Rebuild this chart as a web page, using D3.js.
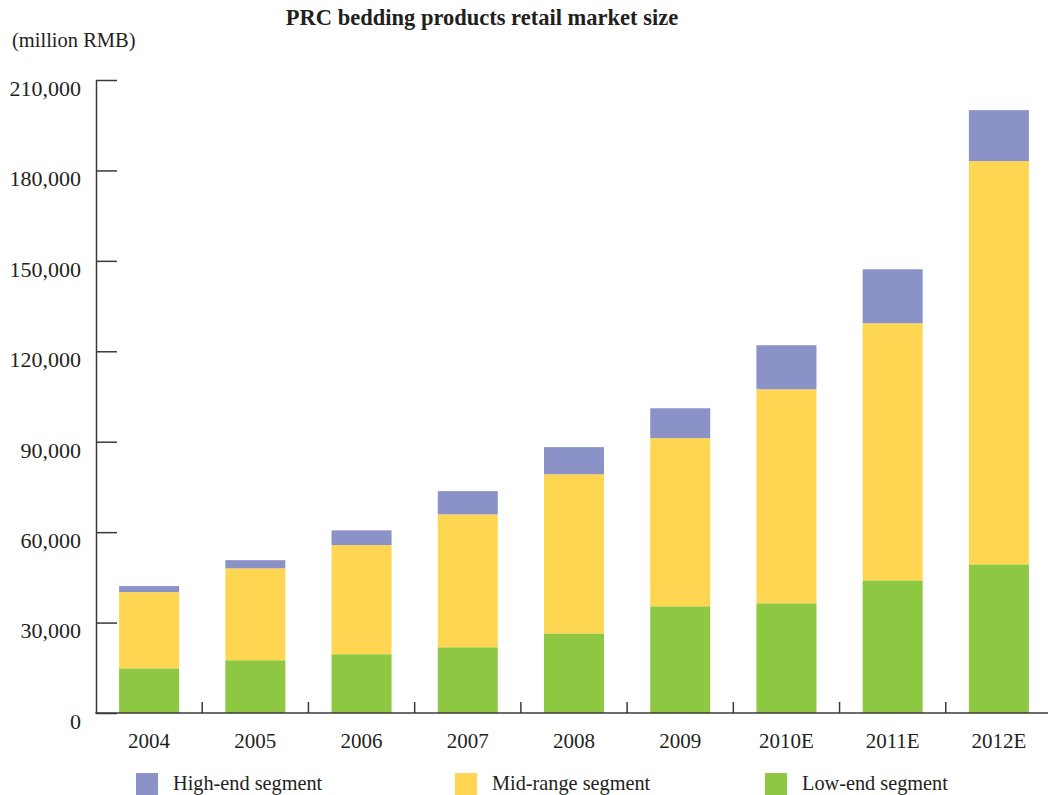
<!DOCTYPE html>
<html>
<head>
<meta charset="utf-8">
<script src="https://cdn.jsdelivr.net/npm/d3@7"></script>
<style>
  html, body { margin: 0; padding: 0; background: #fff; }
  svg { display: block; }
  text { font-family: "Liberation Serif", "Times New Roman", serif; fill: #231f20; }
</style>
</head>
<body>
<svg id="chart" width="1048" height="795"></svg>
<script>
// Retail market size by segment, million RMB
const years = ["2004", "2005", "2006", "2007", "2008", "2009", "2010E", "2011E", "2012E"];
const lowEnd  = [14800, 17500, 19500, 21800, 26400, 35400, 36400, 44000, 49300];
const midRange = [25300, 30500, 36200, 44100, 52800, 55800, 71000, 85300, 133800];
const highEnd = [2000, 2700, 4900, 7700, 9000, 9900, 14600, 17900, 16900];
const yTicks = [0, 30000, 60000, 90000, 120000, 150000, 180000, 210000];

const segments = [
  { key: "low",  label: "Low-end segment",   color: "#8ec742" },
  { key: "mid",  label: "Mid-range segment", color: "#fed651" },
  { key: "high", label: "High-end segment",  color: "#8a92c8" }
];
const legendOrder = ["high", "mid", "low"];

const rows = years.map((y, i) => ({ year: y, low: lowEnd[i], mid: midRange[i], high: highEnd[i] }));

const svg = d3.select("#chart");
const axisColor = "#3a3a3a";

const x = d3.scaleBand()
  .domain(years)
  .range([96, 1052])
  .paddingInner(0.435)
  .paddingOuter(0.2175);

const y = d3.scaleLinear()
  .domain([0, 210000])
  .range([713, 80]);

const stack = d3.stack().keys(segments.map(s => s.key));
const series = stack(rows);
const colorOf = Object.fromEntries(segments.map(s => [s.key, s.color]));

// stacked bars
svg.append("g")
  .selectAll("g")
  .data(series)
  .join("g")
  .attr("fill", d => colorOf[d.key])
  .selectAll("rect")
  .data(d => d)
  .join("rect")
  .attr("x", d => x(d.data.year))
  .attr("width", x.bandwidth())
  .attr("y", d => y(d[1]))
  .attr("height", d => y(d[0]) - y(d[1]));

// y axis: ticks pointing into the plot, labels on the left
const yAxis = d3.axisLeft(y)
  .tickValues(yTicks)
  .tickFormat(d3.format(","))
  .tickSizeInner(-21)
  .tickSizeOuter(0)
  .tickPadding(15);

const gy = svg.append("g")
  .attr("transform", "translate(96,0)")
  .call(yAxis);
gy.select(".domain").attr("stroke", axisColor).attr("stroke-width", 1.5);
gy.selectAll(".tick line").attr("stroke", axisColor).attr("stroke-width", 1.5);
gy.selectAll(".tick text")
  .attr("font-family", "Liberation Serif, Times New Roman, serif")
  .attr("font-size", 22)
  .attr("fill", "#231f20")
  .attr("dy", "0.7em");

// x axis: category labels under each bar
const xAxis = d3.axisBottom(x).tickSize(0).tickPadding(0);
const gx = svg.append("g")
  .attr("transform", "translate(0,713)")
  .call(xAxis);
gx.select(".domain").remove();
gx.selectAll(".tick text")
  .attr("font-family", "Liberation Serif, Times New Roman, serif")
  .attr("font-size", 21)
  .attr("fill", "#231f20")
  .attr("dy", null)
  .attr("y", 35);

// baseline running across the plot
svg.append("line")
  .attr("x1", 95.25).attr("x2", 1048)
  .attr("y1", y(0)).attr("y2", y(0))
  .attr("stroke", axisColor)
  .attr("stroke-width", 1.5);

// separators between categories
const half = x.step() * x.paddingInner() / 2;
svg.append("g")
  .selectAll("line")
  .data(years.slice(1))
  .join("line")
  .attr("x1", d => x(d) - half)
  .attr("x2", d => x(d) - half)
  .attr("y1", y(0))
  .attr("y2", y(0) - 11)
  .attr("stroke", axisColor)
  .attr("stroke-width", 1.5);

// title and unit
svg.append("text")
  .attr("x", 482)
  .attr("y", 25)
  .attr("text-anchor", "middle")
  .attr("font-size", 22.5)
  .attr("font-weight", "bold")
  .text("PRC bedding products retail market size");

svg.append("text")
  .attr("x", 12)
  .attr("y", 47)
  .attr("font-size", 20.5)
  .text("(million RMB)");

// legend
const legendX = [136, 455, 765];
const legend = svg.append("g")
  .selectAll("g")
  .data(legendOrder.map(k => segments.find(s => s.key === k)))
  .join("g")
  .attr("transform", (d, i) => `translate(${legendX[i]},773)`);
legend.append("rect")
  .attr("width", 22)
  .attr("height", 22)
  .attr("fill", d => d.color);
legend.append("text")
  .attr("x", 37)
  .attr("y", 17)
  .attr("font-size", 20.3)
  .text(d => d.label);
</script>
</body>
</html>
